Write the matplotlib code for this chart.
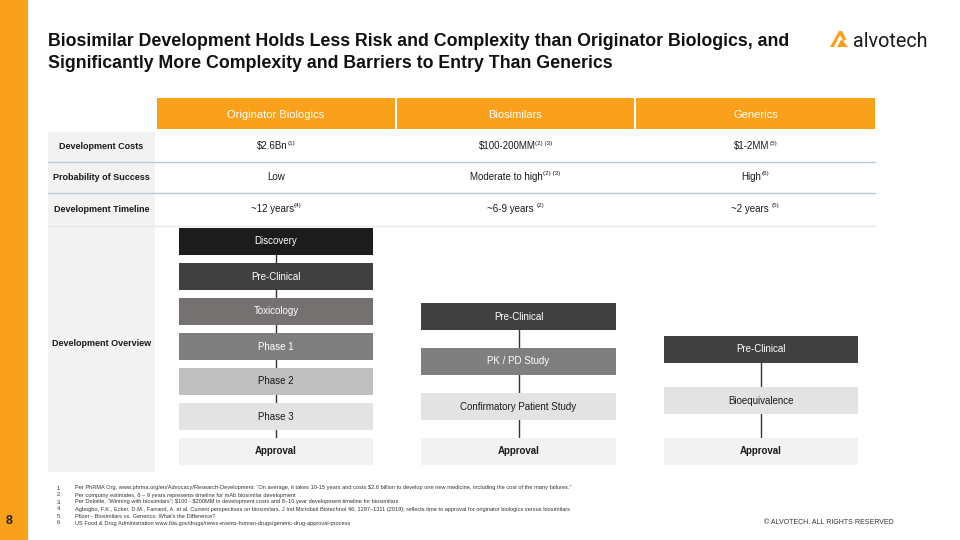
import matplotlib
matplotlib.use("Agg")
import matplotlib.pyplot as plt
from matplotlib.patches import Rectangle, Polygon

plt.rcParams["text.parse_math"] = False

BODY = "Liberation Sans"
ORANGE = "#F9A11B"

title_lines = [
    "Biosimilar Development Holds Less Risk and Complexity than Originator Biologics, and",
    "Significantly More Complexity and Barriers to Entry Than Generics",
]
categories = ["Originator Biologics", "Biosimilars", "Generics"]
row_labels = ["Development Costs", "Probability of Success", "Development Timeline"]
costs = ["$2.6Bn", "$100-200MM", "$1-2MM"]
costs_sup = ["(1)", "(2) (3)", "(5)"]
probability = ["Low", "Moderate to high", "High"]
probability_sup = ["", "(2) (3)", "(6)"]
timeline = ["~12 years", "~6-9 years ", "~2 years "]
timeline_sup = ["(4)", "(2)", "(5)"]
overview_label = "Development Overview"
stages_orig = ["Discovery", "Pre-Clinical", "Toxicology", "Phase 1", "Phase 2", "Phase 3", "Approval"]
stages_orig_colors = ["#1C1C1C", "#404040", "#767171", "#7F7F7F", "#BFBFBF", "#E3E3E3", "#F2F2F2"]
stages_bio = ["Pre-Clinical", "PK / PD Study", "Confirmatory Patient Study", "Approval"]
stages_bio_colors = ["#404040", "#7F7F7F", "#E3E3E3", "#F2F2F2"]
stages_gen = ["Pre-Clinical", "Bioequivalence", "Approval"]
stages_gen_colors = ["#404040", "#E3E3E3", "#F2F2F2"]
footnotes = [
    "Per PhRMA Org, www.phrma.org/en/Advocacy/Research-Development: \u201cOn average, it takes 10-15 years and costs $2.6 billion to develop one new medicine, including the cost of the many failures.\u201d",
    "Per company estimates, 6 \u2013 9 years represents timeline for mAb biosimilar development",
    "Per Deloitte, \u201cWinning with biosimilars\u201d; $100 - $200MM in development costs and 8\u201310 year development timeline for biosimilars",
    "Agbogbo, F.K., Ecker, D.M., Farrand, A. et al. Current perspectives on biosimilars. J Ind Microbiol Biotechnol 46, 1297\u20131311 (2019); reflects time to approval for originator biologics versus biosimilars",
    "Pfizer - Biosimilars vs. Generics: What\u2019s the Difference?",
    "US Food & Drug Administration www.fda.gov/drugs/news-events-human-drugs/generic-drug-approval-process",
]

fig = plt.figure(figsize=(9.6, 5.4), dpi=100)
ax = fig.add_axes([0, 0, 1, 1])
ax.set_xlim(0, 960)
ax.set_ylim(540, 0)
ax.axis("off")
fig.canvas.draw()
renderer = fig.canvas.get_renderer()

# left orange bar
ax.add_patch(Rectangle((0, 0), 28, 540, color=ORANGE, lw=0))
ax.text(9, 521, "8", fontsize=9, fontweight="bold", family=BODY, color="#222222", ha="center", va="center")

# title
for i, line in enumerate(title_lines):
    ax.text(48, 42 + i * 21, line, fontsize=12.8, fontweight="bold", family=BODY,
            color="#111111", ha="left", va="center")

# logo
ax.add_patch(Polygon([(830, 47), (839, 31), (842, 31), (846.5, 39.5), (843.5, 41), (840, 35), (834, 47)],
                     closed=True, color=ORANGE, lw=0))
ax.add_patch(Polygon([(837, 47), (841.5, 39), (848, 47)], closed=True, color=ORANGE, lw=0))
ax.text(853, 47, "alvotech", fontsize=14.2, family="Roboto", fontweight="normal", color="#1A1A1A",
        ha="left", va="baseline")

# columns
col_x = [(157, 395), (397, 634), (636, 875)]
col_c = [(a + b) / 2 for a, b in col_x]

# header
for (a, b), cat in zip(col_x, categories):
    ax.add_patch(Rectangle((a, 98), b - a, 31, color=ORANGE, lw=0))
    ax.text((a + b) / 2, 114.5, cat, fontsize=8, family=BODY, color="white", ha="center", va="center")

# row label gray column
ax.add_patch(Rectangle((48, 132), 107, 340, color="#F2F2F2", lw=0))

row_bounds = [(132, 161), (162, 192), (193, 225)]
for yb in [161.5, 192.5]:
    ax.plot([48, 875], [yb, yb], color="#B7C9DA", lw=1.0)
ax.plot([48, 875], [225.5, 225.5], color="#E6E6E6", lw=1.0)


def text_with_sup(x, y, main, sup, size=7, supsize=4.5):
    t = ax.text(x, y, main, fontsize=size, family=BODY, color="#1A1A1A", ha="left", va="center")
    w1 = t.get_window_extent(renderer).width
    s = None
    w2 = 0
    if sup:
        s = ax.text(x, y - 3, sup, fontsize=supsize, family=BODY, color="#1A1A1A", ha="left", va="center")
        w2 = s.get_window_extent(renderer).width
    total = w1 + w2
    x0 = x - total / 2
    t.set_x(x0)
    if s is not None:
        s.set_x(x0 + w1)


rows = [(costs, costs_sup), (probability, probability_sup), (timeline, timeline_sup)]
for (y0, y1), label, (vals, sups) in zip(row_bounds, row_labels, rows):
    yc = (y0 + y1) / 2
    ax.text(101.5, yc, label, fontsize=6.5, family=BODY, fontweight="bold", color="#1A1A1A",
            ha="center", va="center")
    for xc, v, s in zip(col_c, vals, sups):
        text_with_sup(xc, yc, v, s)

ax.text(101.5, 344, overview_label, fontsize=6.5, family=BODY, fontweight="bold", color="#1A1A1A",
        ha="center", va="center")


def draw_stages(x0, x1, tops, labels, colors):
    h = 27
    xc = (x0 + x1) / 2
    for i in range(len(tops) - 1):
        ax.plot([xc, xc], [tops[i] + h, tops[i + 1]], color="#333333", lw=1.0, zorder=1)
    for top, lab, c in zip(tops, labels, colors):
        ax.add_patch(Rectangle((x0, top), x1 - x0, h, color=c, lw=0, zorder=2))
        dark = c in ("#1C1C1C", "#404040", "#767171", "#7F7F7F")
        bold = lab == "Approval"
        ax.text(xc, top + h / 2, lab, fontsize=7, family=BODY,
                fontweight="bold" if bold else "normal",
                color="white" if dark else "#1A1A1A", ha="center", va="center", zorder=3)


draw_stages(179, 373, [228, 263, 298, 333, 368, 403, 438], stages_orig, stages_orig_colors)
draw_stages(421, 616, [303, 348, 393, 438], stages_bio, stages_bio_colors)
draw_stages(664, 858, [336, 387, 438], stages_gen, stages_gen_colors)

# footnotes (two multi-line blocks with identical line spacing so rows align)
nums = "\n".join(f"{i + 1}." for i in range(len(footnotes)))
ax.text(57, 485.5, nums, fontsize=4.05, family=BODY, color="#333333", ha="left", va="top",
        linespacing=1.5)
ax.text(75, 485.5, "\n".join(footnotes), fontsize=4.05, family=BODY, color="#333333", ha="left",
        va="top", linespacing=1.5)

ax.text(829, 523, "\u00a9 ALVOTECH. ALL RIGHTS RESERVED", fontsize=5.0, family=BODY, color="#333333",
        ha="center", va="center")

fig.savefig("out.png", dpi=100)
